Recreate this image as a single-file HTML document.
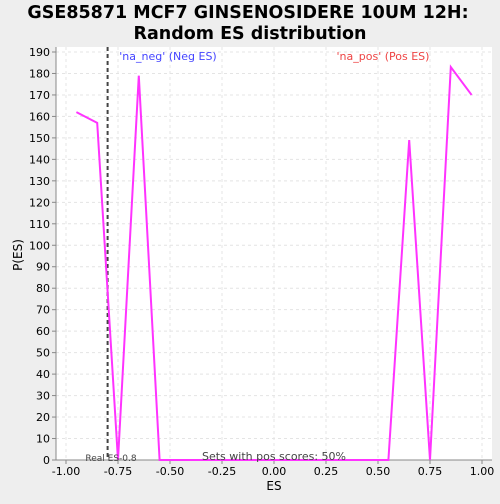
<!DOCTYPE html>
<html><head><meta charset="utf-8"><style>
body{margin:0;background:#eeeeee;font-family:"DejaVu Sans","Liberation Sans",sans-serif;}
</style></head><body>
<svg width="500" height="500" xmlns="http://www.w3.org/2000/svg">
<text x="248" y="18" text-anchor="middle" font-size="17.5" font-weight="bold" fill="#000">GSE85871 MCF7 GINSENOSIDERE 10UM 12H:</text>
<text x="250" y="39" text-anchor="middle" font-size="17.5" font-weight="bold" fill="#000">Random ES distribution</text>
<rect x="56" y="47" width="436" height="413" fill="#fff"/>
<g id="grid"></g><g id="axes"></g><g id="series"></g>
<text x="168" y="60" text-anchor="middle" font-size="11" fill="#4444ff">'na_neg' (Neg ES)</text>
<text x="383" y="60" text-anchor="middle" font-size="11" fill="#ee4444">'na_pos' (Pos ES)</text>
<text x="274" y="460" text-anchor="middle" font-size="11" fill="#444">Sets with pos scores: 50%</text>
<text x="111" y="461" text-anchor="middle" font-size="9" fill="#444">Real ES-0.8</text>
<text x="274" y="490" text-anchor="middle" font-size="12" fill="#000">ES</text>
<text x="22" y="255" text-anchor="middle" font-size="12" fill="#000" transform="rotate(-90 22 255)">P(ES)</text>
</svg>
<script>
const xs=[-0.95,-0.85,-0.75,-0.65,-0.55,0.55,0.65,0.75,0.85,0.95];
const ys=[162,157,0,179,0,0,149,0,183,170];
const xTicks=[-1,-0.75,-0.5,-0.25,0,0.25,0.5,0.75,1];
const xTickLabels=["-1.00","-0.75","-0.50","-0.25","0.00","0.25","0.50","0.75","1.00"];
const yTicks=[0,10,20,30,40,50,60,70,80,90,100,110,120,130,140,150,160,170,180,190];
const realES=-0.8;
const NS="http://www.w3.org/2000/svg";
const X=v=>274+v*208, Y=v=>460-v*(408/190);
function mk(t,a,p){const e=document.createElementNS(NS,t);for(const k in a)e.setAttribute(k,a[k]);p.appendChild(e);return e;}
const g=document.getElementById('grid'),ax=document.getElementById('axes'),s=document.getElementById('series');
yTicks.forEach(v=>{
 const l=mk('line',{x1:56,x2:492,y1:Y(v),y2:Y(v),stroke:'#e4e4e4','stroke-dasharray':'3,3'},g);
 
 
 mk('line',{x1:52,x2:56,y1:Y(v),y2:Y(v),stroke:'#888'},ax);
 const t=mk('text',{x:50,y:Y(v)+4,'text-anchor':'end','font-size':11},ax);t.textContent=v;
 
 
});
xTicks.forEach((v,i)=>{
 const l=mk('line',{x1:X(v),x2:X(v),y1:47,y2:460,stroke:'#e4e4e4','stroke-dasharray':'3,3'},g);
 
 
 mk('line',{x1:X(v),x2:X(v),y1:460,y2:464,stroke:'#888'},ax);
 const t=mk('text',{x:X(v),y:475,'text-anchor':'middle','font-size':11},ax);t.textContent=xTickLabels[i];
 
 
});
mk('line',{x1:56,x2:56,y1:47,y2:460,stroke:'#888'},ax);
mk('line',{x1:56,x2:492,y1:460,y2:460,stroke:'#888'},ax);
const r=mk('line',{x1:X(realES),x2:X(realES),y1:47,y2:460,stroke:'#444','stroke-width':2,'stroke-dasharray':'4,3'},s);


const p=mk('polyline',{points:xs.map((x,i)=>X(x)+','+Y(ys[i])).join(' '),fill:'none',stroke:'#ff33ff','stroke-width':2},s);


</script>
</body></html>
